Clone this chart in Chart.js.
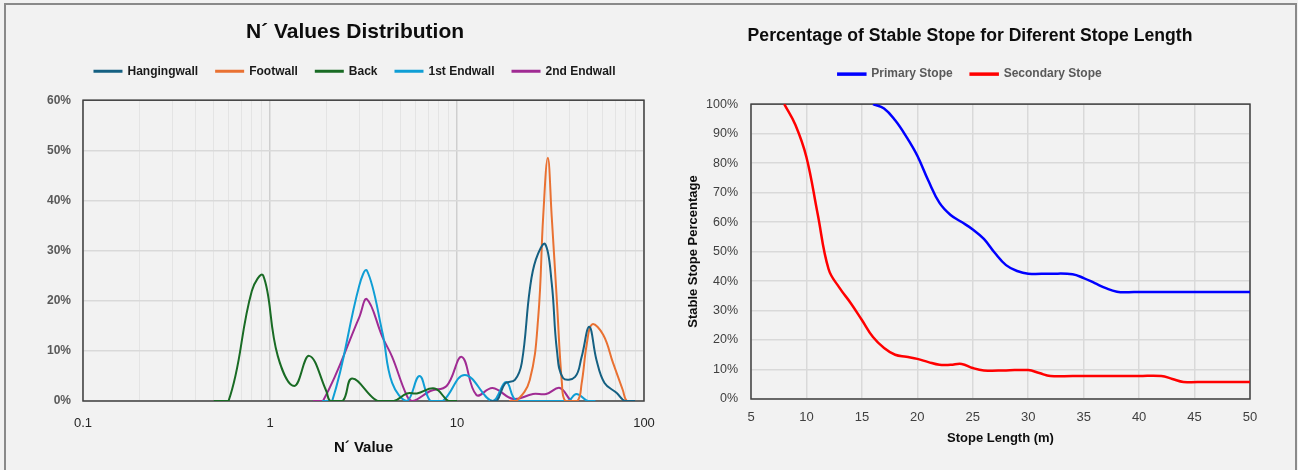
<!DOCTYPE html>
<html>
<head>
<meta charset="utf-8">
<script src="https://cdn.jsdelivr.net/npm/chart.js@4.4.1/dist/chart.umd.min.js"></script>
<style>
  html, body { margin: 0; padding: 0; background: #f2f2f2; }
  #frame { position: absolute; left: 4px; top: 3px; width: 1293px; height: 467px; box-sizing: border-box;
           border: 2px solid #8a8a8a; border-bottom: none; }
  #left { position: absolute; left: 0; top: 0; }
  #right { position: absolute; left: 642px; top: 0; }
</style>
</head>
<body>
<div id="frame"></div>
<canvas id="left" width="710" height="470"></canvas>
<canvas id="right" width="656" height="470"></canvas>
<script>
// ---- left chart: N' value distribution (x = N' value, y = % of cases) ----
const hangingwallX = [15, 16.3, 18.1, 20.4, 22.2, 24.5, 26.4, 29.6, 32.1, 34.2, 36.9, 42.8, 46.4, 51, 55.7, 61.5, 71.5, 79, 90];
const hangingwallY = [0, 0, 3.5, 4.2, 7.6, 22.2, 28.2, 31.3, 23.5, 10.2, 4.6, 4.8, 8.8, 14.8, 8.2, 3.6, 1.6, 0, 0];

const footwallX = [19, 20.8, 24.5, 27.2, 28.9, 30.6, 32.1, 34.2, 36.4, 38, 44, 46.4, 49.5, 52.8, 60.5, 68.3, 77, 81, 90];
const footwallY = [0, 0, 4.2, 16.8, 36.8, 48.5, 36.8, 20, 3.5, 0, 0, 3.5, 11.5, 15.3, 13.2, 7.6, 2.2, 0, 0];

const backX = [0.5, 0.6, 0.8, 0.92, 1.1, 1.35, 1.62, 2.0, 2.1, 2.45, 2.75, 3.75, 4.6, 5.4, 6.1, 7.6, 9.0, 10];
const backY = [0, 0, 22, 25, 9, 3, 9, 2, 0, 0, 4.5, 0, 0, 1.5, 1.5, 2.5, 0, 0];

const endwall1X = [1.9, 2.15, 3.0, 3.3, 4.0, 4.5, 5.4, 6.3, 7.2, 8.4, 11, 15.5, 18.3, 21, 39, 43.5, 50, 55];
const endwall1Y = [0, 0, 23, 26, 13.5, 3.6, 0, 5, 0, 0, 5.2, 0, 3.8, 0, 0, 1.4, 0, 0];

const endwall2X = [1.7, 1.92, 3.0, 3.3, 4.0, 4.5, 5.4, 5.8, 7.2, 8.8, 10.6, 12.7, 15.5, 20, 25.5, 30, 35.5, 41, 45];
const endwall2Y = [0, 0, 16.7, 20.3, 12.7, 8.8, 1, 0, 2, 3, 8.8, 1.2, 2.6, 0.4, 1.4, 1.4, 2.6, 0, 0];

const logMajorTicks = [0.1, 1, 10, 100];
const logMinorSteps = [2, 3, 4, 5, 6, 7, 8, 9];
const leftPctTicks = [0, 10, 20, 30, 40, 50, 60];

// ---- right chart: stable stope percentage vs stope length ----
const primaryLength = [16, 17, 18, 19, 20, 21, 22, 23, 24, 25, 26, 27, 28, 29, 30, 32, 34, 35, 36, 37, 38, 39, 40, 45, 50];
const primaryStable = [100, 98.5, 94.5, 89, 82.5, 74, 66.5, 62.4, 60, 57.5, 54.3, 49.5, 45.4, 43.4, 42.5, 42.5, 42.3, 41, 39.3, 37.6, 36.4, 36.2, 36.3, 36.3, 36.3];

const secondaryLength = [8, 9, 10, 11, 12, 13, 14, 15, 16, 17, 18, 19, 20, 21, 22, 23, 24, 25, 26, 28, 30, 31, 32, 34, 36, 38, 40, 42, 43, 44, 46, 48, 50];
const secondaryStable = [100, 93, 82, 63, 44, 37.6, 32.5, 26.8, 21, 17.3, 15, 14.3, 13.6, 12.5, 11.6, 11.6, 11.9, 10.5, 9.7, 9.7, 9.8, 8.8, 7.8, 7.8, 7.8, 7.8, 7.8, 7.8, 6.8, 5.8, 5.8, 5.8, 5.8];

const SANS = "'Liberation Sans', Arial, sans-serif";

const pts = (xs, ys) => xs.map((x, i) => ({ x: x, y: ys[i] }));

const logTicks = [];
logMajorTicks.forEach((d, i) => {
    logTicks.push(d);
    if (i < logMajorTicks.length - 1) logMinorSteps.forEach(m => logTicks.push(+(d * m).toFixed(2)));
});

function series(label, xs, ys, color, width) {
    return {
        label: label,
        data: pts(xs, ys),
        borderColor: color,
        backgroundColor: color,
        borderWidth: width,
        pointRadius: 0,
        tension: 0.4
    };
}

// dark box around the plot area
const plotFrame = {
    id: 'plotFrame',
    beforeDatasetsDraw(chart) {
        const { ctx, chartArea: a } = chart;
        ctx.save();
        ctx.strokeStyle = '#404040';
        ctx.lineWidth = 1.5;
        ctx.strokeRect(a.left, a.top, a.right - a.left, a.bottom - a.top);
        ctx.restore();
    }
};

// extra room under the legend
function legendGap(px) {
    return {
        id: 'legendGap',
        beforeInit(chart) {
            const fit = chart.legend.fit;
            chart.legend.fit = function () {
                fit.call(this);
                this.height += px;
            };
        }
    };
}

// invisible axis that only reserves space on the right
function spacer(w) {
    return {
        type: 'linear', axis: 'y', position: 'right', display: true,
        grid: { display: false }, border: { display: false }, ticks: { display: false },
        afterFit: s => { s.width = w; }
    };
}

new Chart(document.getElementById('left'), {
    type: 'line',
    data: {
        datasets: [
            series('Hangingwall', hangingwallX, hangingwallY, '#156082', 2),
            series('Footwall', footwallX, footwallY, '#E97132', 2),
            series('Back', backX, backY, '#196B24', 2),
            series('1st Endwall', endwall1X, endwall1Y, '#0F9ED5', 2),
            series('2nd Endwall', endwall2X, endwall2Y, '#A02B93', 2)
        ]
    },
    options: {
        responsive: false,
        animation: false,
        layout: { padding: 0 },
        plugins: {
            title: {
                display: true,
                text: 'N´ Values Distribution',
                color: '#0d0d0d',
                font: { family: SANS, size: 21, weight: 'bold' },
                padding: { top: 20, bottom: 2 }
            },
            legend: {
                labels: {
                    boxWidth: 27, boxHeight: 1, padding: 18, color: '#1a1a1a',
                    font: { family: SANS, size: 12, weight: 'bold' }
                }
            },
            tooltip: { enabled: false }
        },
        scales: {
            x: {
                type: 'logarithmic', min: 0.1, max: 100,
                afterBuildTicks: s => { s.ticks = logTicks.map(v => ({ value: v })); },
                afterFit: s => { s.height = 69; },
                ticks: {
                    autoSkip: false, maxRotation: 0, padding: 15, color: '#262626',
                    font: { family: SANS, size: 13 },
                    callback: v => logMajorTicks.includes(v) ? String(v) : ''
                },
                grid: {
                    drawTicks: false,
                    color: c => logMajorTicks.includes(c.tick.value) ? '#cfcfcf' : '#e4e4e4',
                    lineWidth: c => logMajorTicks.includes(c.tick.value) ? 1.5 : 1
                },
                border: { display: false },
                title: {
                    display: true, text: 'N´ Value', color: '#0d0d0d',
                    font: { family: SANS, size: 15, weight: 'bold' },
                    padding: { top: 0, bottom: 13 }
                }
            },
            y: {
                min: 0, max: 60,
                afterBuildTicks: s => { s.ticks = leftPctTicks.map(v => ({ value: v })); },
                afterFit: s => { s.width = 83; },
                ticks: {
                    padding: 12, color: '#595959',
                    font: { family: SANS, size: 12, weight: 'bold' },
                    callback: v => v + '%'
                },
                grid: { drawTicks: false, color: '#d9d9d9', lineWidth: 1.5 },
                border: { display: false }
            },
            yr: spacer(66)
        }
    },
    plugins: [plotFrame, legendGap(13)]
});

new Chart(document.getElementById('right'), {
    type: 'line',
    data: {
        datasets: [
            series('Primary Stope', primaryLength, primaryStable, '#0000FF', 2.5),
            series('Secondary Stope', secondaryLength, secondaryStable, '#FF0000', 2.5)
        ]
    },
    options: {
        responsive: false,
        animation: false,
        layout: { padding: 0 },
        plugins: {
            title: {
                display: true,
                text: 'Percentage of Stable Stope for Diferent Stope Length',
                color: '#0d0d0d',
                font: { family: SANS, size: 17.6, weight: 'bold' },
                padding: { top: 26, bottom: 3 }
            },
            legend: {
                labels: {
                    boxWidth: 27, boxHeight: 1, padding: 18, color: '#595959',
                    font: { family: SANS, size: 12, weight: 'bold' }
                }
            },
            tooltip: { enabled: false }
        },
        scales: {
            x: {
                type: 'linear', min: 5, max: 50,
                afterFit: s => { s.height = 71; },
                ticks: { stepSize: 5, maxRotation: 0, padding: 11, color: '#404040', font: { family: SANS, size: 13 } },
                grid: { drawTicks: false, color: '#d9d9d9', lineWidth: 1.5 },
                border: { display: false },
                title: {
                    display: true, text: 'Stope Length (m)', color: '#0d0d0d',
                    font: { family: SANS, size: 13, weight: 'bold' },
                    padding: { top: 0, bottom: 24 }
                }
            },
            y: {
                min: 0, max: 100,
                afterFit: s => { s.width = 109; },
                ticks: { stepSize: 10, padding: 13, color: '#404040', font: { family: SANS, size: 12.5 }, callback: v => v + '%' },
                grid: { drawTicks: false, color: '#d9d9d9', lineWidth: 1.5 },
                border: { display: false },
                title: {
                    display: true, text: 'Stable Stope Percentage', color: '#0d0d0d',
                    font: { family: SANS, size: 13, weight: 'bold' },
                    padding: { top: 44, bottom: 0 }
                }
            },
            yr: spacer(48)
        }
    },
    plugins: [plotFrame, legendGap(14)]
});
</script>
</body>
</html>
